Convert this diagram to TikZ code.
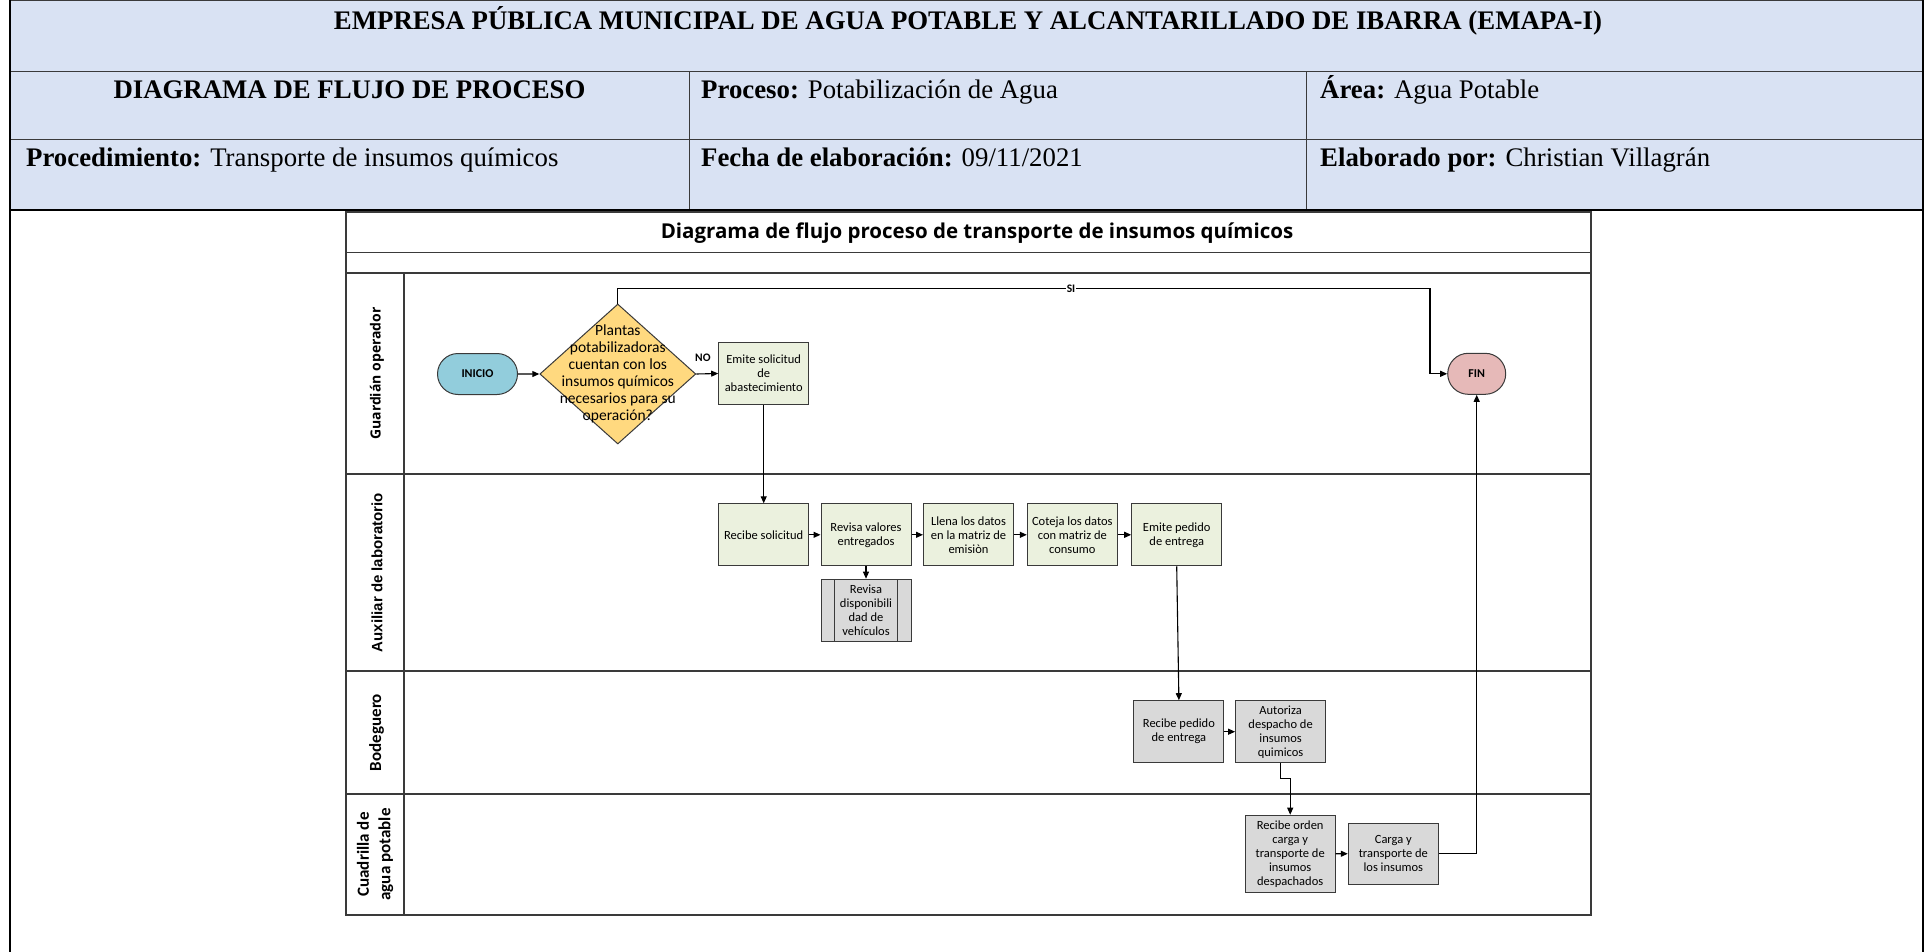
\documentclass[tikz,border=0pt]{standalone}
\usepackage{fontspec}
\setmainfont{Liberation Serif}
\newfontfamily\carlito{Carlito}
\newfontfamily\opensans{Open Sans}
\newfontfamily\arialsans{Liberation Sans}
\usetikzlibrary{shapes.geometric,shapes.misc,arrows.meta}

\definecolor{hdrblue}{HTML}{D9E2F3}
\definecolor{startblue}{HTML}{92CDDC}
\definecolor{endpink}{HTML}{E6B9B8}
\definecolor{decyellow}{HTML}{FFD97F}
\definecolor{actgreen}{HTML}{EBF1DE}
\definecolor{actgray}{HTML}{D9D9D9}
\definecolor{rulegray}{HTML}{3A3A3A}

\begin{document}
\begin{tikzpicture}[x=1pt,y=-1pt,
  hdrtext/.style={font=\fontsize{26.8}{30}\selectfont, inner sep=0pt, anchor=base west},
  boxtext/.style={font=\carlito\fontsize{12.5}{14}\selectfont, align=center, inner sep=1pt},
  proc/.style={boxtext, rectangle, draw=rulegray, line width=1pt, fill=actgreen,
    minimum width=90pt, minimum height=62pt},
  graybox/.style={proc, fill=actgray},
  subproc/.style={graybox, path picture={
      \draw[line width=1pt, draw=rulegray]
        ([xshift=13.8pt]path picture bounding box.north west) --
        ([xshift=13.8pt]path picture bounding box.south west)
        ([xshift=-13.8pt]path picture bounding box.north east) --
        ([xshift=-13.8pt]path picture bounding box.south east);}},
  terminal/.style={rounded rectangle, draw=rulegray, line width=1pt,
    minimum height=41pt, inner sep=0pt, font=\carlito\bfseries\fontsize{12}{14}\selectfont},
  decision/.style={diamond, draw=rulegray, line width=1pt, fill=decyellow,
    minimum width=156pt, minimum height=140pt, inner sep=0pt},
  dectext/.style={font=\carlito\fontsize{15.5}{17}\selectfont, align=center, inner sep=0pt},
  arr/.style={-{Triangle[length=7pt,width=6pt]}, line width=1.1pt},
  flowlabel/.style={font=\carlito\bfseries\fontsize{11.5}{13}\selectfont, inner sep=0.5pt},
  lanerule/.style={line width=1.6pt, draw=rulegray},
  lanelabel/.style={rotate=90, align=center, inner sep=0pt}
]
\useasboundingbox (0,0) rectangle (1929,952);

% ---------- header table ----------
\fill[hdrblue] (10,1) rectangle (1923,210);
\draw[line width=1pt, draw=rulegray] (10,1) -- (1923,1);
\draw[line width=1pt, draw=rulegray] (10,71.5) -- (1923,71.5) (10,140) -- (1923,140);
\draw[line width=1pt, draw=rulegray] (689,71.5) -- (689,210) (1306,71.5) -- (1306,210);
\draw[line width=2.6pt] (10,0) -- (10,952) (1923,0) -- (1923,952);
\draw[line width=2.6pt] (10,210) -- (1923,210);

\node[hdrtext, anchor=base] (hdrtitle) at (968,29.5)
  {\bfseries EMPRESA PÚBLICA MUNICIPAL DE AGUA POTABLE Y ALCANTARILLADO DE IBARRA (EMAPA-I)};
\node[hdrtext, anchor=base] (hdrkind) at (349.5,98.5) {\bfseries DIAGRAMA DE FLUJO DE PROCESO};
\node[hdrtext] (hdrproc) at (701,98.5) {\textbf{Proceso:} Potabilización de Agua};
\node[hdrtext] (hdrarea) at (1320,98.5) {\textbf{Área:} Agua Potable};
\node[hdrtext] (hdrpdto) at (26,166.7) {\textbf{Procedimiento:} Transporte de insumos químicos};
\node[hdrtext] (hdrdate) at (701,166.7) {\textbf{Fecha de elaboración:} 09/11/2021};
\node[hdrtext] (hdrauth) at (1320,166.7) {\textbf{Elaborado por:} Christian Villagrán};

% ---------- swimlane frame ----------
\draw[line width=2pt, draw=rulegray] (346,212) rectangle (1591,915);
\draw[lanerule] (346,252.5) -- (1591,252.5);
\draw[lanerule] (346,273) -- (1591,273);
\draw[lanerule] (346,474) -- (1591,474);
\draw[lanerule] (346,671) -- (1591,671);
\draw[lanerule] (346,794) -- (1591,794);
\draw[lanerule] (404,273) -- (404,915);

\node[font=\opensans\bfseries\fontsize{20.5}{23}\selectfont, anchor=base] (dtitle) at (977,238.5)
  {Diagrama de flujo proceso de transporte de insumos químicos};

\node[lanelabel, font=\opensans\bfseries\fontsize{14}{16}\selectfont] (lane1) at (377,373.5) {Guardián operador};
\node[lanelabel, font=\arialsans\bfseries\fontsize{15}{17}\selectfont] (lane2) at (377,572.5) {Auxiliar de laboratorio};
\node[lanelabel, font=\carlito\bfseries\fontsize{17}{21.5}\selectfont] (lane3) at (376.5,732.5) {Bodeguero};
\node[lanelabel, font=\carlito\bfseries\fontsize{17}{21.5}\selectfont] (lane4) at (375,854.5) {Cuadrilla de\\agua potable};

% ---------- shapes ----------
\node[terminal, fill=startblue, minimum width=80pt] (inicio) at (477.5,374) {INICIO};
\node[decision] (dec) at (617.8,374) {};
\node[dectext] (dectxt) at (dec.center)
  {Plantas\\potabilizadoras\\cuentan con los\\insumos químicos\\necesarios para su\\operación?};
\node[proc] (emsol) at (763.7,373.5) {Emite solicitud\\de\\abastecimiento};
\node[terminal, fill=endpink, minimum width=58pt] (fin) at (1476.7,373.8) {FIN};

\node[proc] (recsol) at (763.7,534.8) {Recibe solicitud};
\node[proc] (revval) at (866,534.8) {Revisa valores\\entregados};
\node[proc] (llena) at (968.5,534.8) {Llena los datos\\en la matriz de\\emisiòn};
\node[proc] (coteja) at (1072.3,534.8) {Coteja los datos\\con matriz de\\consumo};
\node[proc] (emped) at (1176.7,534.8) {Emite pedido\\de entrega};
\node[subproc] (revdisp) at (866,610.2) {Revisa\\disponibili\\dad de\\vehículos};

\node[graybox] (recped) at (1178.9,731.7) {Recibe pedido\\de entrega};
\node[graybox] (autor) at (1280.6,731.7) {Autoriza\\despacho de\\insumos\\quimicos};

\node[graybox, minimum height=77pt] (record) at (1290.2,853.7)
  {Recibe orden\\carga y\\transporte de\\insumos\\despachados};
\node[graybox, minimum height=61pt] (carga) at (1393.3,853.8) {Carga y\\transporte de\\los insumos};

% ---------- connectors ----------
\coordinate (sicorner) at (1430,288.3);
\draw[arr] (inicio) -- (dec);
\draw[arr] (dec.east) -- node[flowlabel, pos=0.3, above=11pt] {NO} (emsol.west);
\draw[arr] (dec.north) |- node[flowlabel, fill=white, pos=0.779] {SI} (sicorner) |- (fin.west);
\draw[arr] (emsol) -- (recsol);
\draw[arr] (recsol) -- (revval);
\draw[arr] (revval) -- (llena);
\draw[arr] (llena) -- (coteja);
\draw[arr] (coteja) -- (emped);
\draw[arr] (revval) -- (revdisp);
\draw[arr] (emped.south) -- (recped.north);
\draw[arr] (recped) -- (autor);
\draw[arr] (autor.south) -- ++(0,15.4) -| (record.north);
\draw[arr] (record) -- (carga);
\draw[arr] (carga.east) -| (fin.south);
\end{tikzpicture}
\end{document}
